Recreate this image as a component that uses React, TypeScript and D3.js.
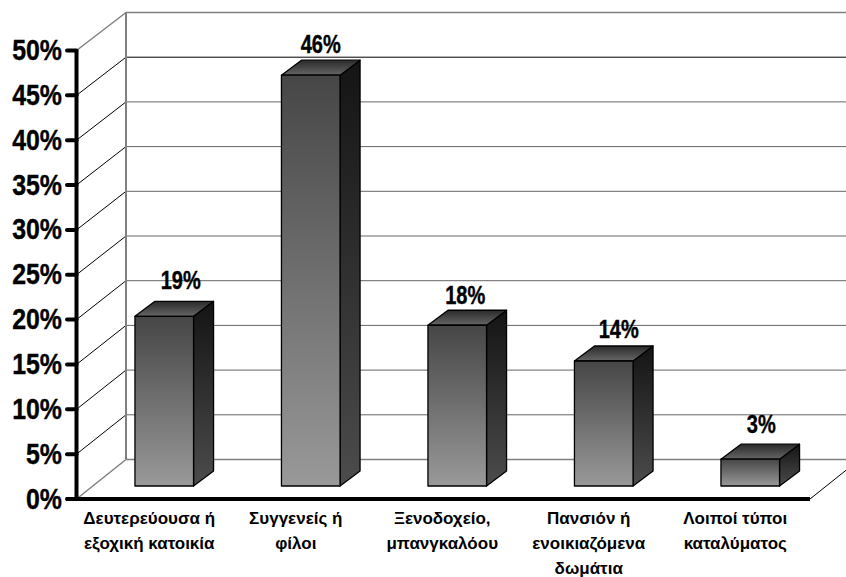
import React from 'react';
import * as d3 from 'd3';

const categories = [
  ['Δευτερεύουσα ή', 'εξοχική κατοικία'],
  ['Συγγενείς ή', 'φίλοι'],
  ['Ξενοδοχείο,', 'μπανγκαλόου'],
  ['Πανσιόν ή', 'ενοικιαζόμενα', 'δωμάτια'],
  ['Λοιποί τύποι', 'καταλύματος'],
];
const values = [19, 46, 18, 14, 3];
const valueLabels = ['19%', '46%', '18%', '14%', '3%'];
const ticks = [0, 5, 10, 15, 20, 25, 30, 35, 40, 45, 50];

const width = 846;
const height = 577;
const axisX = 76.5;
const floorRight = 810;
const wallDx = 49.5;
const barDx = 20;
const barDy = 15;
const font = '"Liberation Sans", Arial, sans-serif';

// hand placed value labels sit a little off the bar centre in the original
const labelShiftX = [6.5, 0, -2, 5, 1];
const labelShiftY = [-27, -22, -21, -23, -26];

const yFront = d3.scaleLinear().domain([0, 50]).range([499, 50.5]);
const yBack = d3.scaleLinear().domain([0, 50]).range([459.5, 12.5]);
const yBar = d3.scaleLinear().domain([0, 50]).range([486, 39.5]);
const x = d3
  .scaleBand<number>()
  .domain(d3.range(values.length))
  .range([91, 823.5])
  .paddingInner(0.6)
  .paddingOuter(0.3);
const xLabel = d3
  .scaleBand<number>()
  .domain(d3.range(values.length))
  .range([77, 809.5]);

export default function App() {
  const right = floorRight + wallDx;
  return (
    <svg
      width={width}
      height={height}
      style={{ position: 'absolute', left: 0, top: 0, background: '#fff' }}
    >
      <defs>
        <linearGradient id="front" x1="0" y1="0" x2="0" y2="1">
          <stop offset="0%" stopColor="#464646" />
          <stop offset="100%" stopColor="#999999" />
        </linearGradient>
        <linearGradient id="side" x1="0" y1="0" x2="0" y2="1">
          <stop offset="0%" stopColor="#141414" />
          <stop offset="100%" stopColor="#4c4c4c" />
        </linearGradient>
        <linearGradient id="top" x1="0" y1="0" x2="0" y2="1">
          <stop offset="0%" stopColor="#2a2a2a" />
          <stop offset="100%" stopColor="#666666" />
        </linearGradient>
      </defs>

      {/* walls and gridlines */}
      {ticks.map(t => {
        const edge = t === 0 || t === 50;
        return (
          <g key={t} stroke={edge ? '#808080' : '#000'} strokeWidth={edge ? 1.5 : 1} fill="none">
            <line x1={axisX} y1={yFront(t)} x2={axisX + wallDx} y2={yBack(t)} />
            <line
              x1={axisX + wallDx}
              y1={yBack(t)}
              x2={right}
              y2={yBack(t)}
              stroke={edge ? '#808080' : t === 45 ? '#000' : '#666'}
            />
          </g>
        );
      })}
      <line
        x1={axisX + wallDx}
        y1={yBack(0)}
        x2={axisX + wallDx}
        y2={yBack(50)}
        stroke="#808080"
        strokeWidth={2}
      />
      <line x1={floorRight} y1={yFront(0)} x2={right} y2={yBack(0)} stroke="#000" />

      {/* bars */}
      {values.map((v, i) => {
        const x0 = x(i)!;
        const x1 = x0 + x.bandwidth();
        const y0 = yBar(0);
        const y1 = yBar(v);
        const d = (pts: number[][]) => `M${pts.map(p => p.join(',')).join('L')}Z`;
        return (
          <g key={i} stroke="#000" strokeWidth={1.3} strokeLinejoin="round">
            <path
              d={d([[x1, y1], [x1 + barDx, y1 - barDy], [x1 + barDx, y0 - barDy], [x1, y0]])}
              fill="url(#side)"
            />
            <path
              d={d([[x0, y1], [x0 + barDx, y1 - barDy], [x1 + barDx, y1 - barDy], [x1, y1]])}
              fill="url(#top)"
            />
            <rect x={x0} y={y1} width={x1 - x0} height={y0 - y1} fill="url(#front)" />
          </g>
        );
      })}

      {/* value labels */}
      {values.map((v, i) => (
        <text
          key={i}
          transform={`translate(${x(i)! + x.bandwidth() / 2 + barDx / 2 + labelShiftX[i]},${yBar(v) + labelShiftY[i]}) scale(0.8,1)`}
          textAnchor="middle"
          fontFamily={font}
          fontWeight="bold"
          fontSize={25}
          fill="#000"
          stroke="#000"
          strokeWidth={0.4}
        >
          {valueLabels[i]}
        </text>
      ))}

      {/* axes */}
      <line x1={axisX} y1={yFront(0)} x2={axisX} y2={yFront(50)} stroke="#000" strokeWidth={4} />
      <line x1={66} y1={yFront(0)} x2={floorRight} y2={yFront(0)} stroke="#000" strokeWidth={4} />
      {ticks.map(t => (
        <g key={t}>
          <line x1={67} y1={yFront(t)} x2={axisX} y2={yFront(t)} stroke="#000" strokeWidth={4} strokeLinecap="round" />
          <text
            transform={`translate(62,${yFront(t) + 9.5}) scale(0.83,1)`}
            textAnchor="end"
            fontFamily={font}
            fontWeight="bold"
            fontSize={30}
            fill="#000"
            stroke="#000"
            strokeWidth={0.4}
          >
            {t}%
          </text>
        </g>
      ))}

      {/* category labels */}
      {categories.map((lines, i) => (
        <text
          key={i}
          textAnchor="middle"
          fontFamily={font}
          fontWeight="bold"
          fontSize={17}
          fill="#000"
        >
          {lines.map((line, j) => (
            <tspan key={j} x={xLabel(i)! + xLabel.bandwidth() / 2 - 1} y={523.5 + j * 25}>
              {line}
            </tspan>
          ))}
        </text>
      ))}
    </svg>
  );
}
